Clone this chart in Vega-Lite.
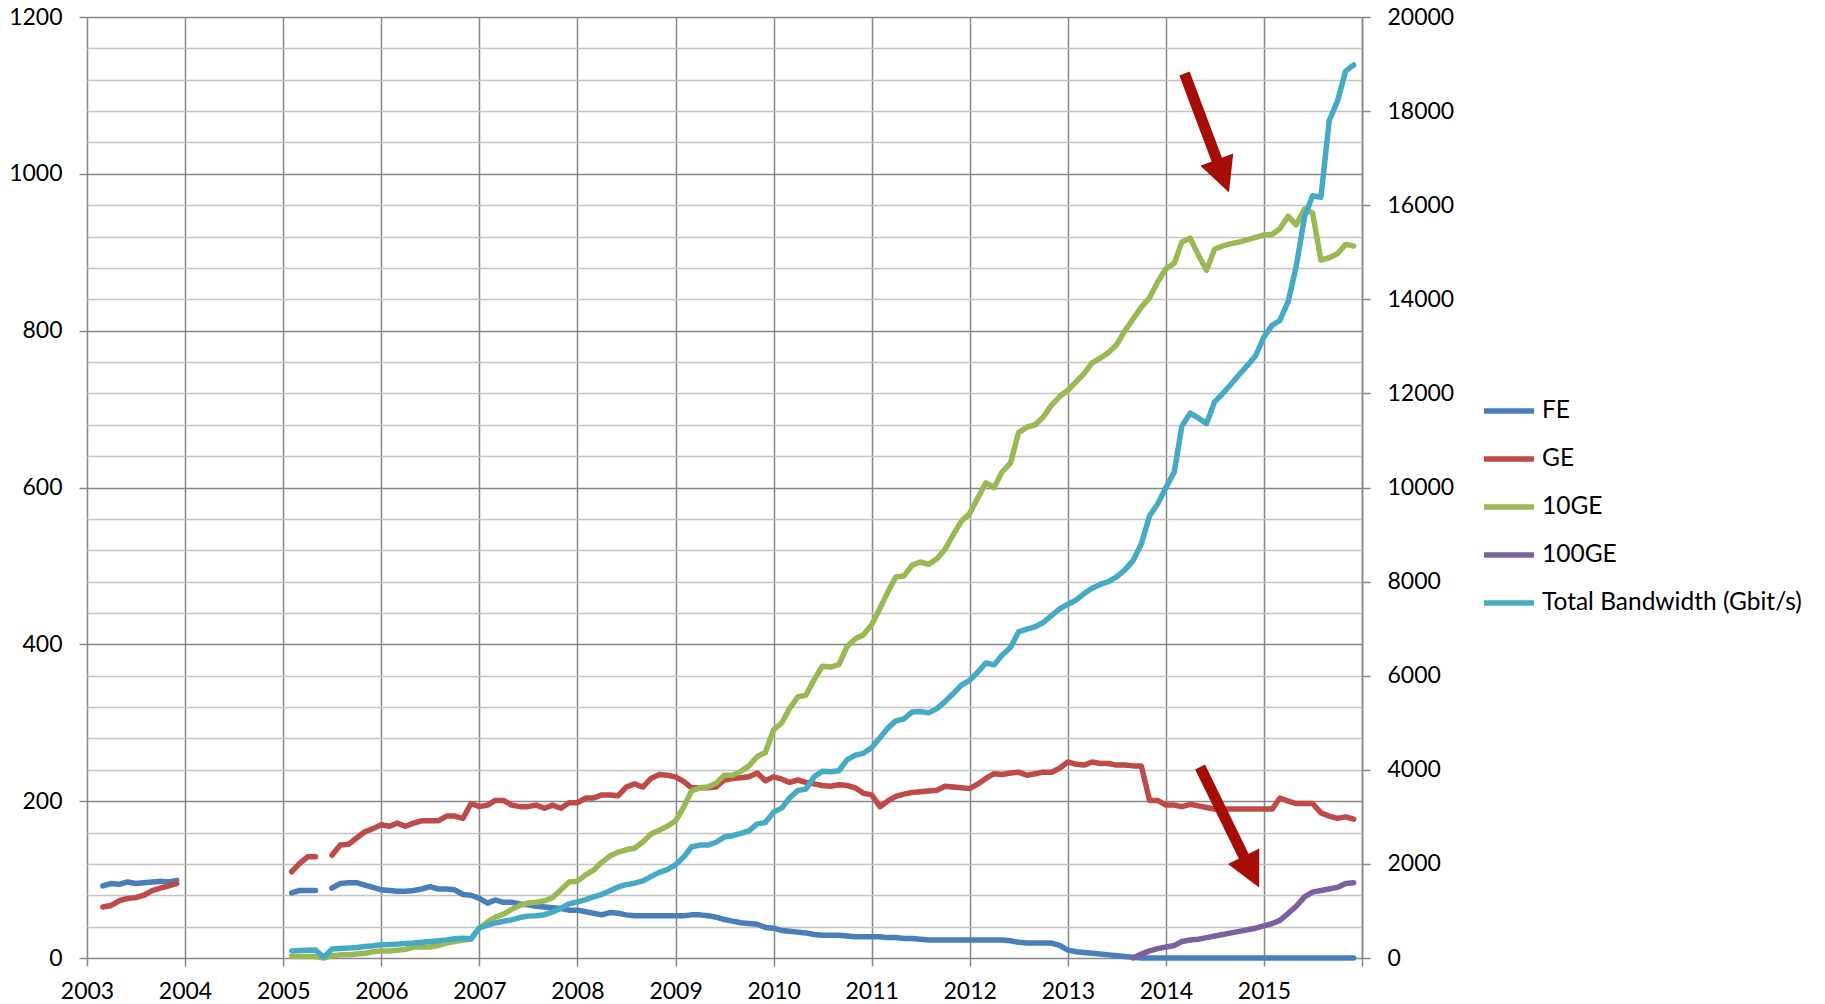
{
  "$schema": "https://vega.github.io/schema/vega-lite/v6.json",
  "width": 1275,
  "height": 941,
  "autosize": {"type": "none"},
  "padding": {"left": 87, "top": 17, "right": 463, "bottom": 46},
  "background": "white",
  "config": {
    "view": {"stroke": null},
    "font": "Lato",
    "axis": {"labelFont": "Lato", "labelFontSize": 23, "labelColor": "#000000"},
    "legend": {
      "orient": "none",
      "legendX": 1394,
      "legendY": 366,
      "padding": 0,
      "symbolType": "stroke",
      "symbolSize": 2500,
      "symbolStrokeWidth": 5.5,
      "labelFont": "Lato",
      "labelFontSize": 24.5,
      "labelColor": "#000000",
      "labelOffset": 5,
      "labelLimit": 0,
      "rowPadding": 8
    }
  },
  "data": {
    "values": [
      {"d": "2003-03-01", "FE": 92, "GE": 65},
      {"d": "2003-04-01", "FE": 95, "GE": 67},
      {"d": "2003-05-01", "FE": 94, "GE": 73},
      {"d": "2003-06-01", "FE": 97, "GE": 76},
      {"d": "2003-07-01", "FE": 95, "GE": 77},
      {"d": "2003-08-01", "FE": 96, "GE": 80},
      {"d": "2003-09-01", "FE": 97, "GE": 86},
      {"d": "2003-10-01", "FE": 98, "GE": 89},
      {"d": "2003-11-01", "FE": 97, "GE": 92},
      {"d": "2003-12-01", "FE": 99, "GE": 95},
      {"d": "2004-06-01", "FE": null, "GE": null, "10GE": null, "Total Bandwidth (Gbit/s)": null},
      {"d": "2005-02-01", "FE": 83, "GE": 110, "10GE": 2, "Total Bandwidth (Gbit/s)": 150},
      {"d": "2005-03-01", "FE": 86, "GE": 120, "10GE": 2, "Total Bandwidth (Gbit/s)": 160},
      {"d": "2005-04-01", "FE": 86, "GE": 129, "10GE": 2, "Total Bandwidth (Gbit/s)": 165},
      {"d": "2005-05-01", "FE": 86, "GE": 129, "10GE": 2, "Total Bandwidth (Gbit/s)": 170},
      {"d": "2005-06-01", "FE": null, "GE": null, "10GE": 0, "Total Bandwidth (Gbit/s)": 15},
      {"d": "2005-07-01", "FE": 89, "GE": 131, "10GE": 3, "Total Bandwidth (Gbit/s)": 190},
      {"d": "2005-08-01", "FE": 95, "GE": 144, "10GE": 4, "Total Bandwidth (Gbit/s)": 200},
      {"d": "2005-09-01", "FE": 96, "GE": 145, "10GE": 4, "Total Bandwidth (Gbit/s)": 210},
      {"d": "2005-10-01", "FE": 96, "GE": 153, "10GE": 5, "Total Bandwidth (Gbit/s)": 225},
      {"d": "2005-11-01", "FE": 93, "GE": 161, "10GE": 6, "Total Bandwidth (Gbit/s)": 245},
      {"d": "2005-12-01", "FE": 90, "GE": 165, "10GE": 8, "Total Bandwidth (Gbit/s)": 260},
      {"d": "2006-01-01", "FE": 87, "GE": 170, "10GE": 9, "Total Bandwidth (Gbit/s)": 280},
      {"d": "2006-02-01", "FE": 86, "GE": 168, "10GE": 9, "Total Bandwidth (Gbit/s)": 285},
      {"d": "2006-03-01", "FE": 85, "GE": 172, "10GE": 10, "Total Bandwidth (Gbit/s)": 295},
      {"d": "2006-04-01", "FE": 85, "GE": 168, "10GE": 11, "Total Bandwidth (Gbit/s)": 310},
      {"d": "2006-05-01", "FE": 86, "GE": 172, "10GE": 14, "Total Bandwidth (Gbit/s)": 320},
      {"d": "2006-06-01", "FE": 88, "GE": 175, "10GE": 14, "Total Bandwidth (Gbit/s)": 335},
      {"d": "2006-07-01", "FE": 91, "GE": 175, "10GE": 14, "Total Bandwidth (Gbit/s)": 350},
      {"d": "2006-08-01", "FE": 88, "GE": 175, "10GE": 16, "Total Bandwidth (Gbit/s)": 365},
      {"d": "2006-09-01", "FE": 88, "GE": 181, "10GE": 19, "Total Bandwidth (Gbit/s)": 385},
      {"d": "2006-10-01", "FE": 87, "GE": 181, "10GE": 21, "Total Bandwidth (Gbit/s)": 410},
      {"d": "2006-11-01", "FE": 81, "GE": 178, "10GE": 23, "Total Bandwidth (Gbit/s)": 420},
      {"d": "2006-12-01", "FE": 80, "GE": 197, "10GE": 24, "Total Bandwidth (Gbit/s)": 410},
      {"d": "2007-01-01", "FE": 76, "GE": 193, "10GE": 38, "Total Bandwidth (Gbit/s)": 640},
      {"d": "2007-02-01", "FE": 70, "GE": 195, "10GE": 46, "Total Bandwidth (Gbit/s)": 700},
      {"d": "2007-03-01", "FE": 74, "GE": 201, "10GE": 52, "Total Bandwidth (Gbit/s)": 745},
      {"d": "2007-04-01", "FE": 71, "GE": 201, "10GE": 56, "Total Bandwidth (Gbit/s)": 780},
      {"d": "2007-05-01", "FE": 71, "GE": 195, "10GE": 62, "Total Bandwidth (Gbit/s)": 810},
      {"d": "2007-06-01", "FE": 69, "GE": 193, "10GE": 67, "Total Bandwidth (Gbit/s)": 860},
      {"d": "2007-07-01", "FE": 68, "GE": 193, "10GE": 70, "Total Bandwidth (Gbit/s)": 890},
      {"d": "2007-08-01", "FE": 66, "GE": 195, "10GE": 71, "Total Bandwidth (Gbit/s)": 900},
      {"d": "2007-09-01", "FE": 65, "GE": 191, "10GE": 73, "Total Bandwidth (Gbit/s)": 920},
      {"d": "2007-10-01", "FE": 64, "GE": 195, "10GE": 77, "Total Bandwidth (Gbit/s)": 980},
      {"d": "2007-11-01", "FE": 63, "GE": 191, "10GE": 87, "Total Bandwidth (Gbit/s)": 1060},
      {"d": "2007-12-01", "FE": 61, "GE": 198, "10GE": 97, "Total Bandwidth (Gbit/s)": 1150},
      {"d": "2008-01-01", "FE": 61, "GE": 198, "10GE": 98, "Total Bandwidth (Gbit/s)": 1190},
      {"d": "2008-02-01", "FE": 59, "GE": 204, "10GE": 106, "Total Bandwidth (Gbit/s)": 1240},
      {"d": "2008-03-01", "FE": 57, "GE": 204, "10GE": 112, "Total Bandwidth (Gbit/s)": 1300},
      {"d": "2008-04-01", "FE": 55, "GE": 208, "10GE": 122, "Total Bandwidth (Gbit/s)": 1350},
      {"d": "2008-05-01", "FE": 58, "GE": 208, "10GE": 130, "Total Bandwidth (Gbit/s)": 1430},
      {"d": "2008-06-01", "FE": 57, "GE": 207, "10GE": 135, "Total Bandwidth (Gbit/s)": 1510},
      {"d": "2008-07-01", "FE": 55, "GE": 218, "10GE": 138, "Total Bandwidth (Gbit/s)": 1560},
      {"d": "2008-08-01", "FE": 54, "GE": 222, "10GE": 140, "Total Bandwidth (Gbit/s)": 1590},
      {"d": "2008-09-01", "FE": 54, "GE": 218, "10GE": 148, "Total Bandwidth (Gbit/s)": 1640},
      {"d": "2008-10-01", "FE": 54, "GE": 229, "10GE": 158, "Total Bandwidth (Gbit/s)": 1730},
      {"d": "2008-11-01", "FE": 54, "GE": 234, "10GE": 163, "Total Bandwidth (Gbit/s)": 1820},
      {"d": "2008-12-01", "FE": 54, "GE": 233, "10GE": 168, "Total Bandwidth (Gbit/s)": 1880},
      {"d": "2009-01-01", "FE": 54, "GE": 231, "10GE": 175, "Total Bandwidth (Gbit/s)": 1980},
      {"d": "2009-02-01", "FE": 54, "GE": 225, "10GE": 193, "Total Bandwidth (Gbit/s)": 2150},
      {"d": "2009-03-01", "FE": 55, "GE": 217, "10GE": 213, "Total Bandwidth (Gbit/s)": 2360},
      {"d": "2009-04-01", "FE": 55, "GE": 217, "10GE": 217, "Total Bandwidth (Gbit/s)": 2400},
      {"d": "2009-05-01", "FE": 54, "GE": 217, "10GE": 218, "Total Bandwidth (Gbit/s)": 2400},
      {"d": "2009-06-01", "FE": 52, "GE": 218, "10GE": 223, "Total Bandwidth (Gbit/s)": 2460},
      {"d": "2009-07-01", "FE": 49, "GE": 227, "10GE": 233, "Total Bandwidth (Gbit/s)": 2570},
      {"d": "2009-08-01", "FE": 47, "GE": 229, "10GE": 233, "Total Bandwidth (Gbit/s)": 2600},
      {"d": "2009-09-01", "FE": 45, "GE": 230, "10GE": 238, "Total Bandwidth (Gbit/s)": 2650},
      {"d": "2009-10-01", "FE": 44, "GE": 231, "10GE": 245, "Total Bandwidth (Gbit/s)": 2700},
      {"d": "2009-11-01", "FE": 43, "GE": 236, "10GE": 257, "Total Bandwidth (Gbit/s)": 2850},
      {"d": "2009-12-01", "FE": 39, "GE": 226, "10GE": 262, "Total Bandwidth (Gbit/s)": 2880},
      {"d": "2010-01-01", "FE": 38, "GE": 231, "10GE": 291, "Total Bandwidth (Gbit/s)": 3100},
      {"d": "2010-02-01", "FE": 35, "GE": 228, "10GE": 300, "Total Bandwidth (Gbit/s)": 3190},
      {"d": "2010-03-01", "FE": 34, "GE": 224, "10GE": 318, "Total Bandwidth (Gbit/s)": 3400},
      {"d": "2010-04-01", "FE": 33, "GE": 227, "10GE": 333, "Total Bandwidth (Gbit/s)": 3560},
      {"d": "2010-05-01", "FE": 32, "GE": 224, "10GE": 335, "Total Bandwidth (Gbit/s)": 3590},
      {"d": "2010-06-01", "FE": 30, "GE": 222, "10GE": 355, "Total Bandwidth (Gbit/s)": 3850},
      {"d": "2010-07-01", "FE": 29, "GE": 220, "10GE": 372, "Total Bandwidth (Gbit/s)": 3970},
      {"d": "2010-08-01", "FE": 29, "GE": 219, "10GE": 371, "Total Bandwidth (Gbit/s)": 3960},
      {"d": "2010-09-01", "FE": 29, "GE": 221, "10GE": 374, "Total Bandwidth (Gbit/s)": 3980},
      {"d": "2010-10-01", "FE": 28, "GE": 220, "10GE": 397, "Total Bandwidth (Gbit/s)": 4210},
      {"d": "2010-11-01", "FE": 27, "GE": 217, "10GE": 407, "Total Bandwidth (Gbit/s)": 4310},
      {"d": "2010-12-01", "FE": 27, "GE": 210, "10GE": 412, "Total Bandwidth (Gbit/s)": 4350},
      {"d": "2011-01-01", "FE": 27, "GE": 208, "10GE": 425, "Total Bandwidth (Gbit/s)": 4470},
      {"d": "2011-02-01", "FE": 27, "GE": 193, "10GE": 446, "Total Bandwidth (Gbit/s)": 4680},
      {"d": "2011-03-01", "FE": 26, "GE": 200, "10GE": 466, "Total Bandwidth (Gbit/s)": 4880},
      {"d": "2011-04-01", "FE": 26, "GE": 206, "10GE": 486, "Total Bandwidth (Gbit/s)": 5040},
      {"d": "2011-05-01", "FE": 25, "GE": 209, "10GE": 487, "Total Bandwidth (Gbit/s)": 5080},
      {"d": "2011-06-01", "FE": 25, "GE": 211, "10GE": 501, "Total Bandwidth (Gbit/s)": 5230},
      {"d": "2011-07-01", "FE": 24, "GE": 212, "10GE": 505, "Total Bandwidth (Gbit/s)": 5240},
      {"d": "2011-08-01", "FE": 23, "GE": 213, "10GE": 502, "Total Bandwidth (Gbit/s)": 5210},
      {"d": "2011-09-01", "FE": 23, "GE": 214, "10GE": 509, "Total Bandwidth (Gbit/s)": 5300},
      {"d": "2011-10-01", "FE": 23, "GE": 219, "10GE": 521, "Total Bandwidth (Gbit/s)": 5450},
      {"d": "2011-11-01", "FE": 23, "GE": 218, "10GE": 540, "Total Bandwidth (Gbit/s)": 5620},
      {"d": "2011-12-01", "FE": 23, "GE": 217, "10GE": 557, "Total Bandwidth (Gbit/s)": 5800},
      {"d": "2012-01-01", "FE": 23, "GE": 216, "10GE": 567, "Total Bandwidth (Gbit/s)": 5900},
      {"d": "2012-02-01", "FE": 23, "GE": 222, "10GE": 587, "Total Bandwidth (Gbit/s)": 6080},
      {"d": "2012-03-01", "FE": 23, "GE": 229, "10GE": 606, "Total Bandwidth (Gbit/s)": 6270},
      {"d": "2012-04-01", "FE": 23, "GE": 235, "10GE": 600, "Total Bandwidth (Gbit/s)": 6230},
      {"d": "2012-05-01", "FE": 23, "GE": 234, "10GE": 620, "Total Bandwidth (Gbit/s)": 6440},
      {"d": "2012-06-01", "FE": 22, "GE": 236, "10GE": 631, "Total Bandwidth (Gbit/s)": 6600},
      {"d": "2012-07-01", "FE": 20, "GE": 237, "10GE": 670, "Total Bandwidth (Gbit/s)": 6930},
      {"d": "2012-08-01", "FE": 19, "GE": 233, "10GE": 677, "Total Bandwidth (Gbit/s)": 6990},
      {"d": "2012-09-01", "FE": 19, "GE": 235, "10GE": 680, "Total Bandwidth (Gbit/s)": 7040},
      {"d": "2012-10-01", "FE": 19, "GE": 237, "10GE": 690, "Total Bandwidth (Gbit/s)": 7130},
      {"d": "2012-11-01", "FE": 19, "GE": 237, "10GE": 705, "Total Bandwidth (Gbit/s)": 7280},
      {"d": "2012-12-01", "FE": 16, "GE": 242, "10GE": 716, "Total Bandwidth (Gbit/s)": 7420},
      {"d": "2013-01-01", "FE": 10, "GE": 250, "10GE": 724, "Total Bandwidth (Gbit/s)": 7520},
      {"d": "2013-02-01", "FE": 8, "GE": 247, "10GE": 735, "Total Bandwidth (Gbit/s)": 7610},
      {"d": "2013-03-01", "FE": 7, "GE": 246, "10GE": 745, "Total Bandwidth (Gbit/s)": 7740},
      {"d": "2013-04-01", "FE": 6, "GE": 250, "10GE": 759, "Total Bandwidth (Gbit/s)": 7860},
      {"d": "2013-05-01", "FE": 5, "GE": 248, "10GE": 765, "Total Bandwidth (Gbit/s)": 7940},
      {"d": "2013-06-01", "FE": 4, "GE": 248, "10GE": 772, "Total Bandwidth (Gbit/s)": 8000},
      {"d": "2013-07-01", "FE": 3, "GE": 246, "10GE": 782, "Total Bandwidth (Gbit/s)": 8100},
      {"d": "2013-08-01", "FE": 2, "GE": 246, "10GE": 800, "Total Bandwidth (Gbit/s)": 8250},
      {"d": "2013-09-01", "FE": 1, "GE": 245, "10GE": 815, "100GE": 0, "Total Bandwidth (Gbit/s)": 8450},
      {"d": "2013-10-01", "FE": 0, "GE": 245, "10GE": 830, "100GE": 5, "Total Bandwidth (Gbit/s)": 8800},
      {"d": "2013-11-01", "FE": 0, "GE": 201, "10GE": 842, "100GE": 9, "Total Bandwidth (Gbit/s)": 9400},
      {"d": "2013-12-01", "FE": 0, "GE": 201, "10GE": 862, "100GE": 12, "Total Bandwidth (Gbit/s)": 9650},
      {"d": "2014-01-01", "FE": 0, "GE": 195, "10GE": 879, "100GE": 14, "Total Bandwidth (Gbit/s)": 10000},
      {"d": "2014-02-01", "FE": 0, "GE": 195, "10GE": 886, "100GE": 16, "Total Bandwidth (Gbit/s)": 10330},
      {"d": "2014-03-01", "FE": 0, "GE": 193, "10GE": 913, "100GE": 21, "Total Bandwidth (Gbit/s)": 11300},
      {"d": "2014-04-01", "FE": 0, "GE": 196, "10GE": 918, "100GE": 23, "Total Bandwidth (Gbit/s)": 11580},
      {"d": "2014-05-01", "FE": 0, "GE": 194, "10GE": 897, "100GE": 24, "Total Bandwidth (Gbit/s)": 11480},
      {"d": "2014-06-01", "FE": 0, "GE": 192, "10GE": 877, "100GE": 26, "Total Bandwidth (Gbit/s)": 11360},
      {"d": "2014-07-01", "FE": 0, "GE": 190, "10GE": 904, "100GE": 28, "Total Bandwidth (Gbit/s)": 11820},
      {"d": "2014-08-01", "FE": 0, "GE": 190, "10GE": 908, "100GE": 30, "Total Bandwidth (Gbit/s)": 12000},
      {"d": "2014-09-01", "FE": 0, "GE": 190, "10GE": 911, "100GE": 32, "Total Bandwidth (Gbit/s)": 12200},
      {"d": "2014-10-01", "FE": 0, "GE": 190, "10GE": 913, "100GE": 34, "Total Bandwidth (Gbit/s)": 12400},
      {"d": "2014-11-01", "FE": 0, "GE": 190, "10GE": 916, "100GE": 36, "Total Bandwidth (Gbit/s)": 12600},
      {"d": "2014-12-01", "FE": 0, "GE": 190, "10GE": 919, "100GE": 38, "Total Bandwidth (Gbit/s)": 12800},
      {"d": "2015-01-01", "FE": 0, "GE": 190, "10GE": 922, "100GE": 41, "Total Bandwidth (Gbit/s)": 13200},
      {"d": "2015-02-01", "FE": 0, "GE": 190, "10GE": 923, "100GE": 44, "Total Bandwidth (Gbit/s)": 13450},
      {"d": "2015-03-01", "FE": 0, "GE": 204, "10GE": 930, "100GE": 48, "Total Bandwidth (Gbit/s)": 13550},
      {"d": "2015-04-01", "FE": 0, "GE": 200, "10GE": 946, "100GE": 57, "Total Bandwidth (Gbit/s)": 13950},
      {"d": "2015-05-01", "FE": 0, "GE": 197, "10GE": 935, "100GE": 66, "Total Bandwidth (Gbit/s)": 14700},
      {"d": "2015-06-01", "FE": 0, "GE": 197, "10GE": 955, "100GE": 78, "Total Bandwidth (Gbit/s)": 15750},
      {"d": "2015-07-01", "FE": 0, "GE": 197, "10GE": 950, "100GE": 84, "Total Bandwidth (Gbit/s)": 16200},
      {"d": "2015-08-01", "FE": 0, "GE": 185, "10GE": 890, "100GE": 86, "Total Bandwidth (Gbit/s)": 16170},
      {"d": "2015-09-01", "FE": 0, "GE": 181, "10GE": 893, "100GE": 88, "Total Bandwidth (Gbit/s)": 17800},
      {"d": "2015-10-01", "FE": 0, "GE": 178, "10GE": 898, "100GE": 90, "Total Bandwidth (Gbit/s)": 18200},
      {"d": "2015-11-01", "FE": 0, "GE": 180, "10GE": 910, "100GE": 95, "Total Bandwidth (Gbit/s)": 18850},
      {"d": "2015-12-01", "FE": 0, "GE": 177, "10GE": 908, "100GE": 96, "Total Bandwidth (Gbit/s)": 18980}
    ]
  },
  "layer": [
    {
      "transform": [
        {"fold": ["FE", "GE", "10GE", "100GE"], "as": ["series", "value"]}
      ],
      "mark": {"type": "line", "strokeWidth": 5.5, "strokeCap": "round", "strokeJoin": "round", "invalid": "break-paths-show-domains"},
      "encoding": {
        "x": {
          "field": "d", "type": "temporal", "title": null,
          "scale": {"type": "utc", "domain": [{"year": 2003, "month": 1, "date": 1, "utc": true}, {"year": 2016, "month": 1, "date": 1, "utc": true}]},
          "axis": {
            "values": [
              {"year": 2003, "month": 1, "date": 1, "utc": true},
              {"year": 2004, "month": 1, "date": 1, "utc": true},
              {"year": 2005, "month": 1, "date": 1, "utc": true},
              {"year": 2006, "month": 1, "date": 1, "utc": true},
              {"year": 2007, "month": 1, "date": 1, "utc": true},
              {"year": 2008, "month": 1, "date": 1, "utc": true},
              {"year": 2009, "month": 1, "date": 1, "utc": true},
              {"year": 2010, "month": 1, "date": 1, "utc": true},
              {"year": 2011, "month": 1, "date": 1, "utc": true},
              {"year": 2012, "month": 1, "date": 1, "utc": true},
              {"year": 2013, "month": 1, "date": 1, "utc": true},
              {"year": 2014, "month": 1, "date": 1, "utc": true},
              {"year": 2015, "month": 1, "date": 1, "utc": true},
              {"year": 2016, "month": 1, "date": 1, "utc": true}
            ],
            "format": "%Y",
            "labelExpr": "datum.label == '2016' ? '' : datum.label",
            "grid": true, "gridColor": "#878787", "gridWidth": 1.5,
            "tickSize": 8, "tickColor": "#878787", "tickWidth": 1.5,
            "domain": false, "labelPadding": 14, "labelFlush": false, "labelOverlap": false, "title": null
          }
        },
        "y": {
          "field": "value", "type": "quantitative", "title": null,
          "scale": {"domain": [0, 1200], "nice": false, "zero": true},
          "axis": {
            "orient": "left",
            "values": [0, 40, 80, 120, 160, 200, 240, 280, 320, 360, 400, 440, 480, 520, 560, 600, 640, 680, 720, 760, 800, 840, 880, 920, 960, 1000, 1040, 1080, 1120, 1160, 1200],
            "format": "d",
            "labelExpr": "datum.value % 200 === 0 ? datum.label : ''",
            "grid": true,
            "gridColor": {"condition": {"test": "datum.value % 200 === 0", "value": "#878787"}, "value": "#c4c4c4"},
            "gridWidth": 1.5,
            "tickColor": {"condition": {"test": "datum.value % 200 === 0", "value": "#878787"}, "value": "transparent"},
            "tickSize": 8, "tickWidth": 1.5,
            "domain": false, "labelPadding": 17, "labelOverlap": false, "labelFlush": false, "title": null
          }
        },
        "color": {
          "field": "series", "type": "nominal", "title": null,
          "scale": {
            "domain": ["FE", "GE", "10GE", "100GE", "Total Bandwidth (Gbit/s)"],
            "range": ["#4A7EBB", "#BE4B48", "#98B954", "#7D60A0", "#46AAC5"]
          },
          "legend": {"title": null, "orient": "none", "legendX": 1394, "legendY": 366, "labelLimit": 0}
        }
      }
    },
    {
      "layer": [
        {
          "transform": [
            {"fold": ["Total Bandwidth (Gbit/s)"], "as": ["series", "value"]}
          ],
          "mark": {"type": "line", "strokeWidth": 5.5, "strokeCap": "round", "strokeJoin": "round", "invalid": "break-paths-show-domains"},
          "encoding": {
            "x": {"field": "d", "type": "temporal", "title": null},
            "y": {
              "field": "value", "type": "quantitative", "title": null,
              "scale": {"domain": [0, 20000], "nice": false, "zero": true},
              "axis": {
                "orient": "right",
                "values": [0, 2000, 4000, 6000, 8000, 10000, 12000, 14000, 16000, 18000, 20000],
                "format": "d",
                "grid": false,
                "tickSize": 8, "tickColor": "#878787", "tickWidth": 1.5,
                "domain": true, "domainColor": "#878787", "domainWidth": 1.5,
                "labelPadding": 17, "labelOverlap": false, "labelFlush": false, "title": null
              }
            },
            "color": {"field": "series", "type": "nominal", "title": null}
          }
        },
        {
          "data": {
            "values": [
              {"arrow": 1, "x0": "2014-03-11", "y0": 18800, "x1": "2014-08-01", "y1": 16620},
              {"arrow": 2, "x0": "2014-05-08", "y0": 4060, "x1": "2014-11-15", "y1": 1830}
            ]
          },
          "mark": {"type": "rule", "strokeWidth": 11, "color": "#A50D05", "strokeCap": "butt"},
          "encoding": {
            "x": {"field": "x0", "type": "temporal", "title": null},
            "y": {"field": "y0", "type": "quantitative", "title": null},
            "x2": {"field": "x1"},
            "y2": {"field": "y1"}
          }
        },
        {
          "data": {
            "values": [
              {"arrow": 1, "x1": "2014-08-01", "y1": 16620}
            ]
          },
          "mark": {"type": "point", "shape": "M-1,-1L1,-1L0,1Z", "size": 1225, "filled": true, "color": "#A50D05", "opacity": 1, "angle": 339.7},
          "encoding": {
            "x": {"field": "x1", "type": "temporal", "title": null},
            "y": {"field": "y1", "type": "quantitative", "title": null}
          }
        },
        {
          "data": {
            "values": [
              {"arrow": 2, "x1": "2014-11-15", "y1": 1830}
            ]
          },
          "mark": {"type": "point", "shape": "M-1,-1L1,-1L0,1Z", "size": 1225, "filled": true, "color": "#A50D05", "opacity": 1, "angle": 333.7},
          "encoding": {
            "x": {"field": "x1", "type": "temporal", "title": null},
            "y": {"field": "y1", "type": "quantitative", "title": null}
          }
        }
      ]
    }
  ],
  "resolve": {"scale": {"y": "independent"}}
}
